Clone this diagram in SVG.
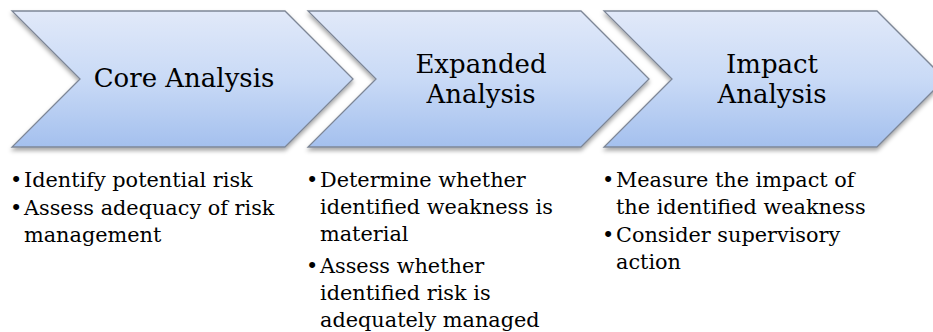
<svg xmlns="http://www.w3.org/2000/svg" width="933" height="332" viewBox="0 0 933 332">
<style>
.chev{fill:url(#g);stroke:#7d8696;stroke-width:1.3;filter:url(#sh)}
.h{font-family:'DejaVu Serif',serif;font-size:26px;fill:#000;text-anchor:middle}
.b{font-family:'DejaVu Serif',serif;font-size:20.8px;fill:#000}
</style>
<defs>
<linearGradient id="g" x1="0" y1="0" x2="0" y2="1">
<stop offset="0" stop-color="#e1e9f9"/>
<stop offset="0.5" stop-color="#c9daf6"/>
<stop offset="1" stop-color="#a4c0ee"/>
</linearGradient>
<filter id="sh" x="-10%" y="-10%" width="120%" height="130%">
<feDropShadow dx="0" dy="3" stdDeviation="2.2" flood-color="#000" flood-opacity="0.35"/>
</filter>
</defs>
<g id="node-core">
<path class="chev" d="M12,11 H285 L353,79 L285,147 H12 L80,79 Z"/>
<text class="h" x="184" y="87">Core Analysis</text>
</g>
<g id="node-expanded">
<path class="chev" d="M308,11 H581 L649,79 L581,147 H308 L376,79 Z"/>
<text class="h" x="481" y="73">Expanded</text>
<text class="h" x="481" y="103">Analysis</text>
</g>
<g id="node-impact">
<path class="chev" d="M604,11 H877 L945,79 L877,147 H604 L672,79 Z"/>
<text class="h" x="772" y="73">Impact</text>
<text class="h" x="772" y="103">Analysis</text>
</g>
<g id="connectors"></g>
<g id="list-core">
<text class="b" x="10" y="187">•</text><text class="b" x="24" y="187">Identify potential risk</text>
<text class="b" x="10" y="215">•</text><text class="b" x="24" y="215">Assess adequacy of risk</text>
<text class="b" x="24" y="242">management</text>
</g>
<g id="list-expanded">
<text class="b" x="306" y="187">•</text><text class="b" x="320" y="187">Determine whether</text>
<text class="b" x="320" y="214">identified weakness is</text>
<text class="b" x="320" y="241">material</text>
<text class="b" x="306" y="273">•</text><text class="b" x="320" y="273">Assess whether</text>
<text class="b" x="320" y="300">identified risk is</text>
<text class="b" x="320" y="327">adequately managed</text>
</g>
<g id="list-impact">
<text class="b" x="602" y="187">•</text><text class="b" x="616" y="187">Measure the impact of</text>
<text class="b" x="616" y="214">the identified weakness</text>
<text class="b" x="602" y="242">•</text><text class="b" x="616" y="242">Consider supervisory</text>
<text class="b" x="616" y="269">action</text>
</g>
</svg>
